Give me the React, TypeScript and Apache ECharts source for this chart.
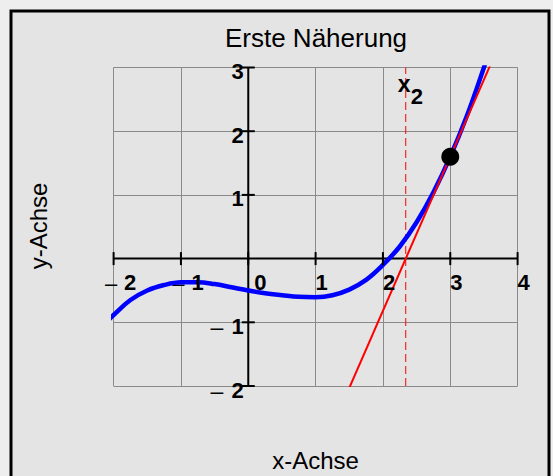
import React, { useEffect, useRef } from 'react';
import * as echarts from 'echarts';

// ---- data ----
const curveX = [-2.1, -2, -1.75, -1.5, -1.25, -1, -0.75, -0.5, -0.25, 0, 0.25, 0.5, 0.75, 1, 1.25, 1.5, 1.75, 2, 2.25, 2.5, 2.75, 3, 3.25, 3.5, 3.6];
const curveY = [-0.99, -0.885, -0.65, -0.5, -0.415, -0.372, -0.37, -0.4, -0.45, -0.5, -0.545, -0.575, -0.6, -0.605, -0.575, -0.487, -0.335, -0.1, 0.19, 0.57, 1.04, 1.6, 2.25, 3.0, 3.33];
const pointX = 3;
const pointY = 1.6;
const tangentSlope = 2.42;
const tangentRangeX = [1.3, 3.8];
const xTicks = [-2, -1, 0, 1, 2, 3, 4];
const yTicks = [-2, -1, 1, 2, 3];
const xMin = -2, xMax = 4, yMin = -2, yMax = 3;
const titleText = 'Erste Näherung';
const xName = 'x-Achse';
const yName = 'y-Achse';
const newtonLabel = 'x';
const newtonSub = '2';

const FONT = '"Liberation Sans", Arial, Helvetica, sans-serif';

export default function App() {
  const ref = useRef<HTMLDivElement>(null);
  useEffect(() => {
    if (!ref.current) return;
    const chart = echarts.init(ref.current, null, { renderer: 'svg' });
    const x2 = pointX - pointY / tangentSlope;
    const tangent = tangentRangeX.map((x) => [x, pointY + tangentSlope * (x - pointX)]);
    const curve = curveX.map((x, i) => [x, curveY[i]]);

    const option: any = {
      animation: false,
      backgroundColor: '#eeeeee',
      grid: { left: 113.6, top: 67.5, width: 404, height: 318.5 },
      xAxis: {
        type: 'value', min: xMin, max: xMax, interval: 1,
        axisLine: { show: false }, axisTick: { show: false }, axisLabel: { show: false },
        splitLine: { show: true, lineStyle: { color: '#8a8a8a', width: 1 } },
      },
      yAxis: {
        type: 'value', min: yMin, max: yMax, interval: 1,
        axisLine: { show: false }, axisTick: { show: false }, axisLabel: { show: false },
        splitLine: { show: true, lineStyle: { color: '#8a8a8a', width: 1 } },
      },
      graphic: [
        {
          type: 'rect', z: -100, silent: true,
          shape: { x: 11, y: 11, width: 538, height: 480 },
          style: { fill: '#e4e4e4', stroke: '#000', lineWidth: 3 },
        },
        {
          type: 'text', x: 316, y: 38, z: 10,
          style: { text: titleText, fill: '#000', fontSize: 26, fontFamily: FONT, align: 'center', verticalAlign: 'middle' },
        },
        {
          type: 'text', x: 315.5, y: 460.5, z: 10,
          style: { text: xName, fill: '#000', fontSize: 24, fontFamily: FONT, align: 'center', verticalAlign: 'middle' },
        },
        {
          type: 'text', x: 38, y: 226, rotation: Math.PI / 2, z: 10,
          style: { text: yName, fill: '#000', fontSize: 24, fontFamily: FONT, align: 'center', verticalAlign: 'middle' },
        },
      ],
      series: [
        // axes lines
        {
          type: 'line', data: [[xMin, 0], [xMax, 0]], symbol: 'none', silent: true, z: 2,
          lineStyle: { color: '#000', width: 2 },
        },
        {
          type: 'line', data: [[0, yMin], [0, yMax]], symbol: 'none', silent: true, z: 2,
          lineStyle: { color: '#000', width: 2 },
        },
        // dashed x2 marker
        {
          type: 'line', data: [[x2, yMin], [x2, yMax]], symbol: 'none', silent: true, z: 2,
          lineStyle: { color: '#ff0000', width: 1, type: [8, 4] },
        },
        // minus signs (below curve)
        {
          type: 'custom', z: 2, silent: true,
          data: xTicks.filter((v) => v < 0).map((v) => [v, 0]),
          renderItem: (params: any, api: any) => {
            const p = api.coord([api.value(0), api.value(1)]);
            return {
              type: 'text', x: p[0] - 8.6, y: p[1] + 24.5,
              style: { text: '–', fill: '#000', fontSize: 22, fontFamily: FONT, align: 'left', verticalAlign: 'middle' },
            };
          },
        },
        {
          type: 'custom', z: 2, silent: true,
          data: yTicks.filter((v) => v < 0).map((v) => [0, v]),
          renderItem: (params: any, api: any) => {
            const p = api.coord([api.value(0), api.value(1)]);
            return {
              type: 'text', x: p[0] - 25, y: p[1] + 5,
              style: { text: '–', fill: '#000', fontSize: 23, fontFamily: FONT, align: 'right', verticalAlign: 'middle' },
            };
          },
        },
        // blue function curve
        {
          type: 'line', data: curve, smooth: 0.4, symbol: 'none', showSymbol: false, clip: true, z: 3,
          lineStyle: { color: '#0000ff', width: 4.5 },
        },
        // red tangent
        {
          type: 'line', data: tangent, symbol: 'none', showSymbol: false, clip: true, z: 4,
          lineStyle: { color: '#ff0000', width: 2 },
        },
        // x ticks and labels
        {
          type: 'custom', z: 5, silent: true,
          data: xTicks.map((v) => [v, 0]),
          renderItem: (params: any, api: any) => {
            const v = api.value(0);
            const p = api.coord([v, api.value(1)]);
            const dx = v < 0 ? 10.5 : v === 0 ? 6 : 0;
            return {
              type: 'group',
              children: [
                { type: 'line', shape: { x1: p[0], y1: p[1] - 6.5, x2: p[0], y2: p[1] + 6.5 }, style: { stroke: '#000', lineWidth: 2 } },
                {
                  type: 'text', x: p[0] + dx, y: p[1] + 24,
                  style: { text: String(Math.abs(v)), fill: '#000', fontSize: 22, fontWeight: 'bold', fontFamily: FONT, align: 'left', verticalAlign: 'middle' },
                },
              ],
            };
          },
        },
        // y ticks and labels
        {
          type: 'custom', z: 5, silent: true,
          data: yTicks.map((v) => [0, v]),
          renderItem: (params: any, api: any) => {
            const v = api.value(1);
            const p = api.coord([api.value(0), v]);
            return {
              type: 'group',
              children: [
                { type: 'line', shape: { x1: p[0] - 6.5, y1: p[1], x2: p[0] + 6.5, y2: p[1] }, style: { stroke: '#000', lineWidth: 2 } },
                {
                  type: 'text', x: p[0] - 4.5, y: p[1] + 4,
                  style: { text: String(Math.abs(v)), fill: '#000', fontSize: 22, fontWeight: 'bold', fontFamily: FONT, align: 'right', verticalAlign: 'middle' },
                },
              ],
            };
          },
        },
        // x2 label
        {
          type: 'custom', z: 5, silent: true,
          data: [[x2, yMax]],
          renderItem: (params: any, api: any) => {
            const p = api.coord([api.value(0), api.value(1)]);
            return {
              type: 'group',
              children: [
                {
                  type: 'text', x: p[0] - 8, y: p[1] + 16.5,
                  style: { text: newtonLabel, fill: '#000', fontSize: 23, fontWeight: 'bold', fontFamily: FONT, align: 'left', verticalAlign: 'middle' },
                },
                {
                  type: 'text', x: p[0] + 5, y: p[1] + 29,
                  style: { text: newtonSub, fill: '#000', fontSize: 22, fontWeight: 'bold', fontFamily: FONT, align: 'left', verticalAlign: 'middle' },
                },
              ],
            };
          },
        },
        // the point
        {
          type: 'scatter', data: [[pointX, pointY]], symbolSize: 18, z: 10, silent: true,
          itemStyle: { color: '#000', opacity: 1 },
        },
      ],
    };
    chart.setOption(option);
    return () => chart.dispose();
  }, []);
  return <div ref={ref} style={{ position: 'fixed', left: 0, top: 0, width: 553, height: 476 }} />;
}
